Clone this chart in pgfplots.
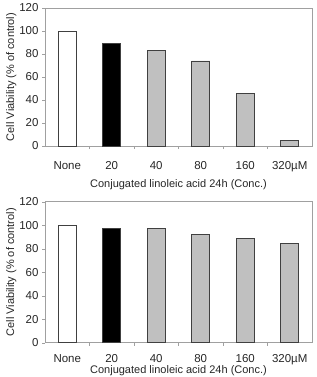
\documentclass[border=0pt]{standalone}
\usepackage{pgfplots}
\pgfplotsset{compat=1.18}
\usepackage{fontspec}
\setmainfont{Liberation Sans}

\definecolor{framegray}{HTML}{A0A0A0}
\definecolor{barline}{HTML}{404040}
\definecolor{barfill}{HTML}{C0C0C0}

\pgfplotsset{
  viab/.style={
    scale only axis,
    width=267pt,
    xmin=-0.5, xmax=5.5,
    ymin=0, ymax=120,
    ytick={0,20,...,120},
    xtick={0,...,5},
    xticklabels={None,20,40,80,160,320\textmu M},
    minor xtick={0.5,1.5,2.5,3.5,4.5},
    major x tick style={draw=none},
    minor x tick style={draw=framegray},
    minor tick length=3pt,
    xtick pos=bottom,
    ytick pos=left,
    tick align=outside,
    major tick length=3pt,
    y tick style={draw=framegray},
    axis line style={framegray, line width=0.8pt},
    /pgf/number format/assume math mode=true,
    tick label style={font=\fontsize{11.5}{13}\selectfont, text=black!85},
    label style={font=\fontsize{11}{13}\selectfont, text=black!85},
    xlabel={Conjugated linoleic acid 24h (Conc.)},
    ylabel={Cell Viability (\% of control)},
    ylabel style={yshift=-4pt},
    bar width=18pt,
    ybar, bar shift=0pt,
    every axis plot/.append style={draw=barline, line width=0.8pt},
  }
}

\begin{document}
\begin{tikzpicture}
\clip (0pt,0pt) rectangle (316pt,-377pt);

% 24 h treatment, first panel
\begin{axis}[viab, height=138pt, at={(45pt,-146pt)}, anchor=south west,
    every x tick label/.append style={yshift=-9pt},
    xlabel style={yshift=-1pt}]
  \addplot[fill=white]   coordinates {(0,100)};
  \addplot[fill=black]   coordinates {(1,89)};
  \addplot[fill=barfill] coordinates {(2,83) (3,74) (4,46) (5,5)};
\end{axis}

% 24 h treatment, second panel
\begin{axis}[viab, height=141pt, at={(45pt,-342.7pt)}, anchor=south west,
    every x tick label/.append style={yshift=-5pt},
    xlabel style={yshift=6pt}]
  \addplot[fill=white]   coordinates {(0,100)};
  \addplot[fill=black]   coordinates {(1,97)};
  \addplot[fill=barfill] coordinates {(2,97) (3,92) (4,89) (5,84.5)};
\end{axis}
\end{tikzpicture}
\end{document}
